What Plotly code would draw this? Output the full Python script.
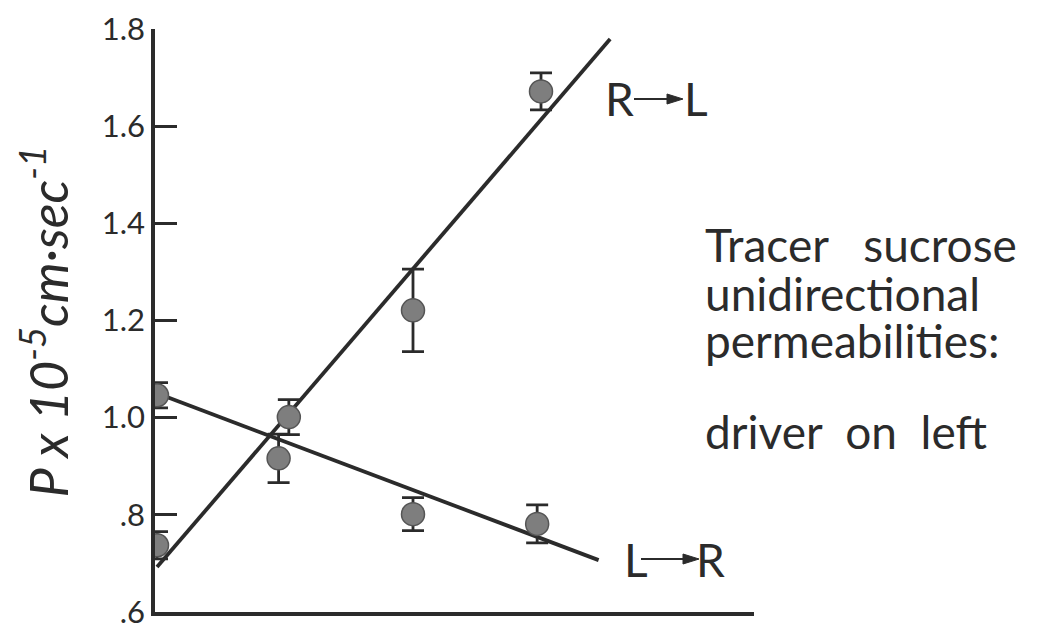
import plotly.graph_objects as go

# Tracer sucrose unidirectional permeabilities (P x 10^-5 cm/sec)
rl_x = [0.0, 1.03, 2.0, 3.0]
rl_p = [0.737, 1.001, 1.221, 1.672]
rl_err = [0.028, 0.036, 0.085, 0.038]

lr_x = [0.0, 0.95, 2.0, 2.97]
lr_p = [1.046, 0.916, 0.801, 0.781]
lr_err = [0.026, 0.05, 0.034, 0.039]

# fitted lines: intercept, slope, x extent
rl_fit = (0.692, 0.3073, 3.54)
lr_fit = (1.050, -0.0996, 3.45)

y_ticks = [0.6, 0.8, 1.0, 1.2, 1.4, 1.6, 1.8]
y_tick_text = [".6", ".8", "1.0", "1.2", "1.4", "1.6", "1.8"]

W, H = 1039, 626
ML, MR, MT, MB = 155, 285, 29, 14
INK = "#2b2b2b"
FONT = "Lato, Roboto, 'DejaVu Sans', sans-serif"
NB = "\u00a0"


def px(xp):
    return (xp - ML) / (W - ML - MR)


def py(yp):
    return (H - MB - yp) / (H - MT - MB)


def fit_line(fit):
    b, m, xe = fit
    xs = [0.0, xe]
    return xs, [b + m * x for x in xs]


fig = go.Figure()

for fit in (rl_fit, lr_fit):
    xs, ys = fit_line(fit)
    fig.add_trace(go.Scatter(x=xs, y=ys, mode="lines",
                             line=dict(color=INK, width=3.8),
                             hoverinfo="skip", showlegend=False))

for xs, ys, es in ((rl_x, rl_p, rl_err), (lr_x, lr_p, lr_err)):
    fig.add_trace(go.Scatter(
        x=xs, y=ys, mode="markers",
        marker=dict(size=23, color="#7e7e7e",
                    line=dict(color="#555555", width=1.5)),
        error_y=dict(type="data", array=es, visible=True,
                     color=INK, thickness=2.8, width=11),
        showlegend=False))

fig.update_xaxes(range=[-0.0156, 4.664], showgrid=False, zeroline=False,
                 showticklabels=False, ticks="", showline=True,
                 linecolor=INK, linewidth=3.5, automargin=False)
fig.update_yaxes(range=[0.5995, 1.8005], tickvals=y_ticks, ticktext=y_tick_text,
                 showgrid=False, zeroline=False, showline=True,
                 linecolor=INK, linewidth=3.5, ticks="inside", ticklen=22,
                 tickwidth=2.8, tickcolor=INK, ticklabeloverflow="allow",
                 automargin=False,
                 tickfont=dict(family=FONT, size=31, color=INK))

ann = []
# axis title
ann.append(dict(xref="paper", yref="paper", x=px(8), y=py(322),
                xanchor="left", yanchor="middle",
                text="<i>P x 10<sup>-5</sup>cm·sec<sup>-1</sup></i>",
                textangle=-90, showarrow=False,
                font=dict(family=FONT, size=52, color=INK)))

# side note
notes = [(f"Tracer{NB}{NB}{NB}sucrose", 244), ("unidirectional", 293),
         ("permeabilities:", 340), (f"driver{NB}{NB}on{NB}{NB}left", 432)]
for txt, yp in notes:
    ann.append(dict(xref="paper", yref="paper", x=px(703), y=py(yp),
                    xanchor="left", yanchor="middle", text=txt,
                    showarrow=False,
                    font=dict(family=FONT, size=46, color=INK)))

shapes = []


# direction labels: letter, arrow shaft with filled head, letter
def direction(a, b, x0, x1, x2, x3, yp):
    for txt, xx, anchor in ((a, x0, "left"), (b, x3, "right")):
        ann.append(dict(xref="paper", yref="paper", x=px(xx), y=py(yp),
                        xanchor=anchor, yanchor="middle", text=txt,
                        showarrow=False,
                        font=dict(family=FONT, size=46, color=INK)))
    head = 16
    shapes.append(dict(type="line", xref="paper", yref="paper",
                       x0=px(x1), x1=px(x2 - head + 2), y0=py(yp), y1=py(yp),
                       line=dict(color=INK, width=2)))
    path = (f"M {px(x2 - head)} {py(yp - 5)} L {px(x2)} {py(yp)} "
            f"L {px(x2 - head)} {py(yp + 5)} Z")
    shapes.append(dict(type="path", xref="paper", yref="paper", path=path,
                       fillcolor=INK, line=dict(color=INK, width=1)))


direction("R", "L", 603, 634, 683, 710, 99)
direction("L", "R", 622, 641, 699, 727, 559)

fig.update_layout(width=W, height=H,
                  margin=dict(l=ML, r=MR, t=MT, b=MB),
                  paper_bgcolor="white", plot_bgcolor="white",
                  annotations=ann, shapes=shapes)

fig.write_html("out.html")
